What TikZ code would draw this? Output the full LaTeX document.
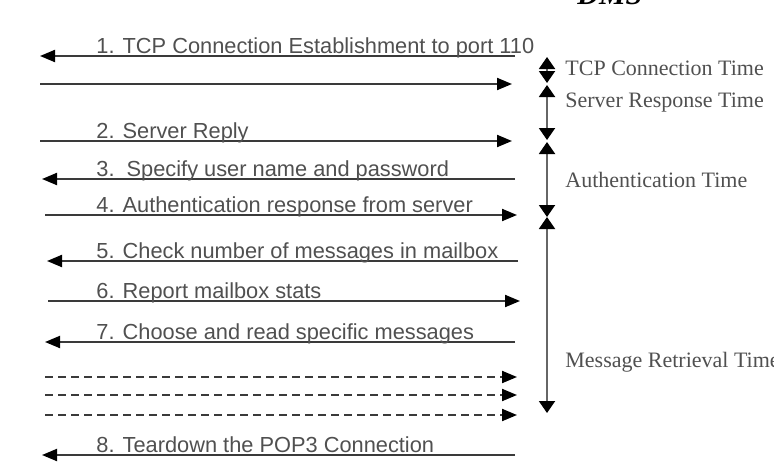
\documentclass[tikz,border=0pt]{standalone}
\usepackage{fontspec}
\setmainfont{Liberation Serif}
\setsansfont{Liberation Sans}
\usetikzlibrary{arrows.meta}
\definecolor{txtgray}{HTML}{505050}
\definecolor{linegray}{HTML}{3A3A3A}
\tikzset{
  msg/.style={draw=linegray, line width=1pt, -{Triangle[length=7.5pt,width=6pt,color=black]}},
  dmsg/.style={msg, dash pattern=on 4pt off 2.5pt},
  span/.style={draw=black!60, line width=1pt, {Triangle[length=6pt,width=8pt,color=black]}-{Triangle[length=6pt,width=8pt,color=black]}},
  lbl/.style={anchor=base west, inner sep=0pt, text=txtgray, font=\sffamily\fontsize{10.9}{13}\selectfont},
  tlbl/.style={anchor=west, inner sep=0pt, text=txtgray, font=\rmfamily\fontsize{11}{13}\selectfont}
}
\begin{document}
\begin{tikzpicture}[x=0.5pt,y=-0.5pt]
    \useasboundingbox (0,0) rectangle (774,471);
    \clip (0,0) rectangle (774,471);

    % title (cut at the top)
    \node[anchor=base west, inner sep=0pt, font=\rmfamily\bfseries\itshape\fontsize{15}{17}\selectfont] (dms) at (577,4) {DMS};

    % labelled messages
    \foreach \n/\ya/\xa/\xb/\txt in {
        1/56/515/40/{1. TCP Connection Establishment to port 110},
        2/141/40/512/{2. Server Reply},
        3/179/515/42/{3.\ \ Specify user name and password},
        4/215/45/517/{4. Authentication response from server},
        5/261/518/47/{5. Check number of messages in mailbox},
        6/301/48/520/{6. Report mailbox stats},
        7/342/515/45/{7. Choose and read specific messages},
        8/455/515/42/{8. Teardown the POP3 Connection}}
    {
        \coordinate (s\n) at (\xa,\ya);
        \coordinate (e\n) at (\xb,\ya);
        \draw[msg] (s\n) -- (e\n);
        \node[lbl] (t\n) at (96,\ya-3) {\txt};
    }

    % unlabelled reply
    \coordinate (sa) at (40,84);
    \coordinate (ea) at (512,84);
    \draw[msg] (sa) -- (ea);

    % further messages
    \foreach \k/\ya in {1/377, 2/395, 3/415}
    {
        \coordinate (ds\k) at (45,\ya);
        \coordinate (de\k) at (517,\ya);
        \draw[dmsg] (ds\k) -- (de\k);
    }

    % time spans
    \foreach \p/\ya/\yb/\yt/\txt in {
        tcp/57/83/68/{TCP Connection Time},
        srv/85/140/103/{Server Response Time},
        auth/142/217/180/{Authentication Time},
        ret/217/413/362/{Message Retrieval Time}}
    {
        \coordinate (\p top) at (547,\ya);
        \coordinate (\p bot) at (547,\yb);
        \draw[span] (\p top) -- (\p bot);
        \node[tlbl] (\p lbl) at (565,\yt) {\txt};
    }
\end{tikzpicture}
\end{document}
